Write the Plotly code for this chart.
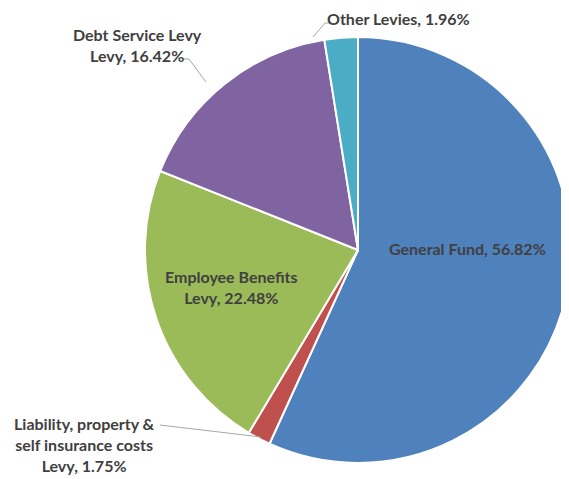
import plotly.graph_objects as go

categories = ["General Fund", "Liability, property &<br>self insurance costs<br>Levy",
              "Employee Benefits<br>Levy", "Debt Service Levy<br>Levy", "Other Levies"]
# slice sizes as drawn
values = [56.82, 1.75, 22.48, 16.42, 2.53]
# percentages printed in the labels
label_pcts = ["56.82%", "1.75%", "22.48%", "16.42%", "1.96%"]
colors = ["#4F81BD", "#C0504D", "#9BBB59", "#8064A2", "#4BACC6"]

W, H = 569, 479
OFF = 8  # page body margin offset

def px(x, y):
    return (x - OFF) / W, 1 - (y - OFF) / H

fig = go.Figure(go.Pie(
    labels=categories, values=values, sort=False, direction="clockwise", rotation=0,
    marker=dict(colors=colors, line=dict(color="white", width=2)),
    textinfo="none", hoverinfo="label", showlegend=False,
    domain=dict(x=[(145 - OFF) / W, (571 - OFF) / W],
                y=[(H - (463 - OFF)) / H, (H - (37 - OFF)) / H]),
))

font = dict(family="Lato, Open Sans, sans-serif", size=16, color="#404040", weight="bold")
label_pos = [(467, 248), (84, 444), (231, 287), (137, 45), (398, 18)]
for cat, pct, (x, y) in zip(categories, label_pcts, label_pos):
    ax, ay = px(x, y)
    fig.add_annotation(x=ax, y=ay, xref="paper", yref="paper", text=f"{cat}, {pct}",
                       showarrow=False, font=font, align="center", xanchor="center", yanchor="middle")

leaders = [
    [(160, 425), (261, 437)],
    [(182, 59), (189, 59), (206, 82)],
    [(331, 23), (325, 23), (313, 37)],
]
for pts in leaders:
    path = "M " + " L ".join(f"{px(x, y)[0]},{px(x, y)[1]}" for x, y in pts)
    fig.add_shape(type="path", path=path, xref="paper", yref="paper",
                  line=dict(color="#A6A6A6", width=1))

fig.update_layout(width=W, height=H, margin=dict(l=0, r=0, t=0, b=0),
                  paper_bgcolor="white", plot_bgcolor="white")
fig.write_html("out.html")
